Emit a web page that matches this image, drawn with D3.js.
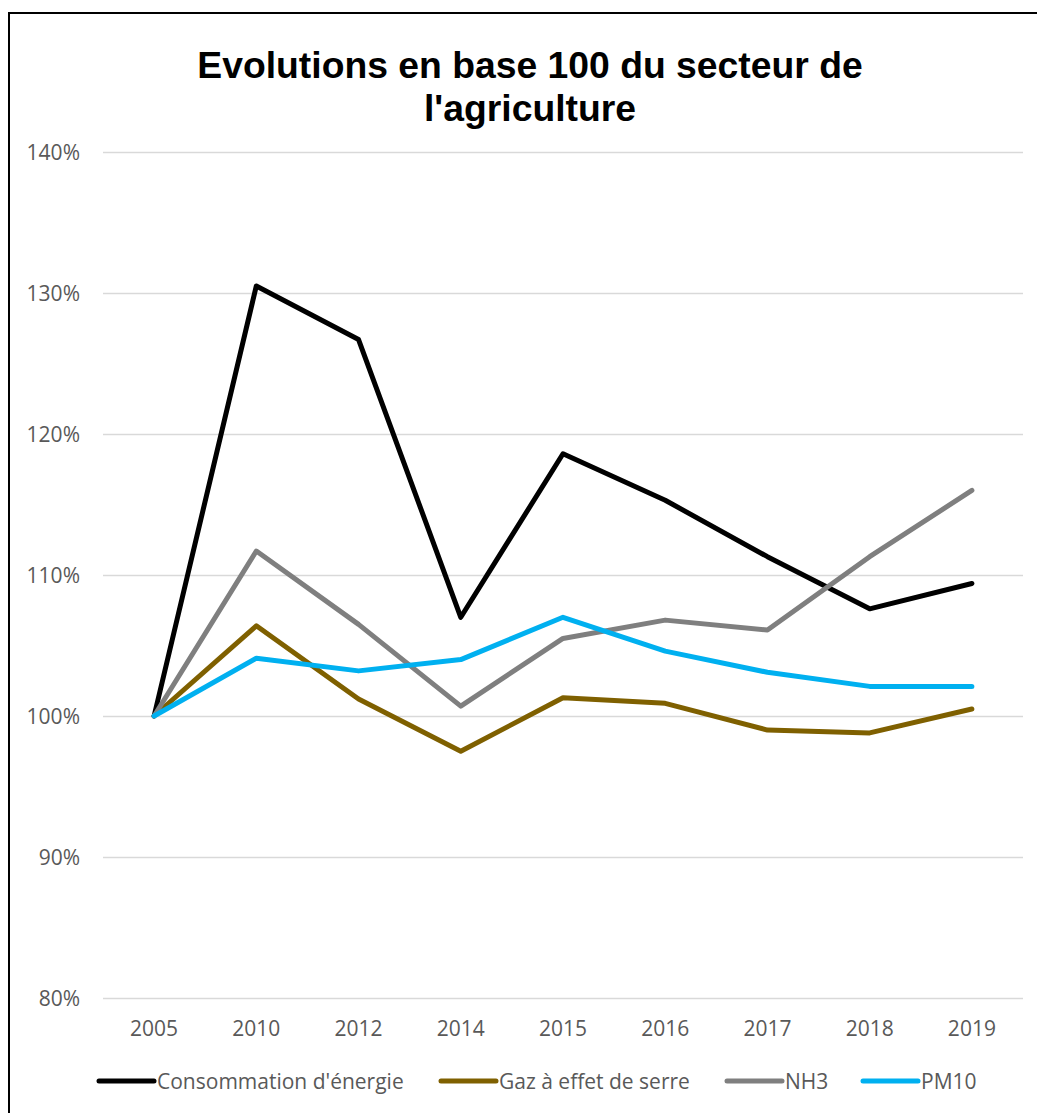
<!DOCTYPE html>
<html>
<head>
<meta charset="utf-8">
<script src="https://cdn.jsdelivr.net/npm/d3@7"></script>
<style>
  html, body { margin: 0; padding: 0; background: #fff; }
  svg { display: block; }
</style>
</head>
<body>
<svg id="chart" width="1037" height="1113"></svg>
<script>
const years = ["2005", "2010", "2012", "2014", "2015", "2016", "2017", "2018", "2019"];
const consommation = [100, 130.5, 126.7, 107.0, 118.6, 115.3, 111.3, 107.6, 109.4];
const gaz = [100, 106.4, 101.2, 97.5, 101.3, 100.9, 99.0, 98.8, 100.5];
const nh3 = [100, 111.7, 106.5, 100.7, 105.5, 106.8, 106.1, 111.3, 116.0];
const pm10 = [100, 104.1, 103.2, 104.0, 107.0, 104.6, 103.1, 102.1, 102.1];
const yTicks = [80, 90, 100, 110, 120, 130, 140];
const seriesNames = ["Consommation d'énergie", "Gaz à effet de serre", "NH3", "PM10"];
const seriesColors = ["#000000", "#7F6000", "#7F7F7F", "#00B0F0"];
const title = ["Evolutions en base 100 du secteur de", "l'agriculture"];

const series = [consommation, gaz, nh3, pm10].map((v, i) => ({
  name: seriesNames[i], color: seriesColors[i], values: v
}));

const svg = d3.select("#chart");
const font = "'Open Sans', sans-serif";

// outer border
svg.append("rect")
  .attr("x", 9).attr("y", 13)
  .attr("width", 1100).attr("height", 1200)
  .attr("fill", "#fff").attr("stroke", "#000").attr("stroke-width", 2);

const x = d3.scaleBand().domain(years).range([103, 1023]);
const y = d3.scaleLinear().domain([80, 140]).range([998, 152]);

// title
svg.append("text")
  .attr("x", 530).attr("y", 78)
  .attr("text-anchor", "middle")
  .style("font-family", "'Liberation Sans', Arial, sans-serif")
  .style("font-weight", "bold").style("font-size", "37.3px")
  .attr("fill", "#000")
  .selectAll("tspan").data(title).join("tspan")
  .attr("x", 530).attr("dy", (d, i) => i === 0 ? 0 : 43)
  .text(d => d);

// gridlines + y axis
const yAxis = d3.axisLeft(y).tickValues(yTicks)
  .tickSize(-(1023 - 103)).tickPadding(23)
  .tickFormat(d => d + "%");
const gy = svg.append("g").attr("transform", "translate(103,0)").call(yAxis);
gy.select(".domain").remove();
gy.selectAll(".tick line").attr("stroke", "#D9D9D9").attr("stroke-width", 1.5);
gy.selectAll(".tick text")
  .attr("fill", "#595959")
  .style("font-family", font).style("font-size", "21px")
  .attr("dy", "0.34em");

// x axis
const xAxis = d3.axisBottom(x).tickSize(0).tickPadding(23);
const gx = svg.append("g").attr("transform", "translate(0,998)").call(xAxis);
gx.select(".domain").remove();
gx.selectAll(".tick text")
  .attr("fill", "#595959")
  .style("font-family", font).style("font-size", "21px");

// lines
const line = d3.line()
  .x((d, i) => x(years[i]) + x.bandwidth() / 2)
  .y(d => y(d));

svg.append("g").selectAll("path").data(series).join("path")
  .attr("d", d => line(d.values))
  .attr("fill", "none")
  .attr("stroke", d => d.color)
  .attr("stroke-width", 5)
  .attr("stroke-linecap", "round")
  .attr("stroke-linejoin", "round");

// legend
const legendX = [99, 441, 727, 863];
const lg = svg.append("g").selectAll("g").data(series).join("g")
  .attr("transform", (d, i) => `translate(${legendX[i]},1081)`);
lg.append("line")
  .attr("x1", 0).attr("x2", 55).attr("y1", 0).attr("y2", 0)
  .attr("stroke", d => d.color).attr("stroke-width", 5)
  .attr("stroke-linecap", "round");
lg.append("text")
  .attr("x", 58).attr("y", 8)
  .attr("fill", "#595959")
  .style("font-family", font).style("font-size", "21px")
  .text(d => d.name);
</script>
</body>
</html>
